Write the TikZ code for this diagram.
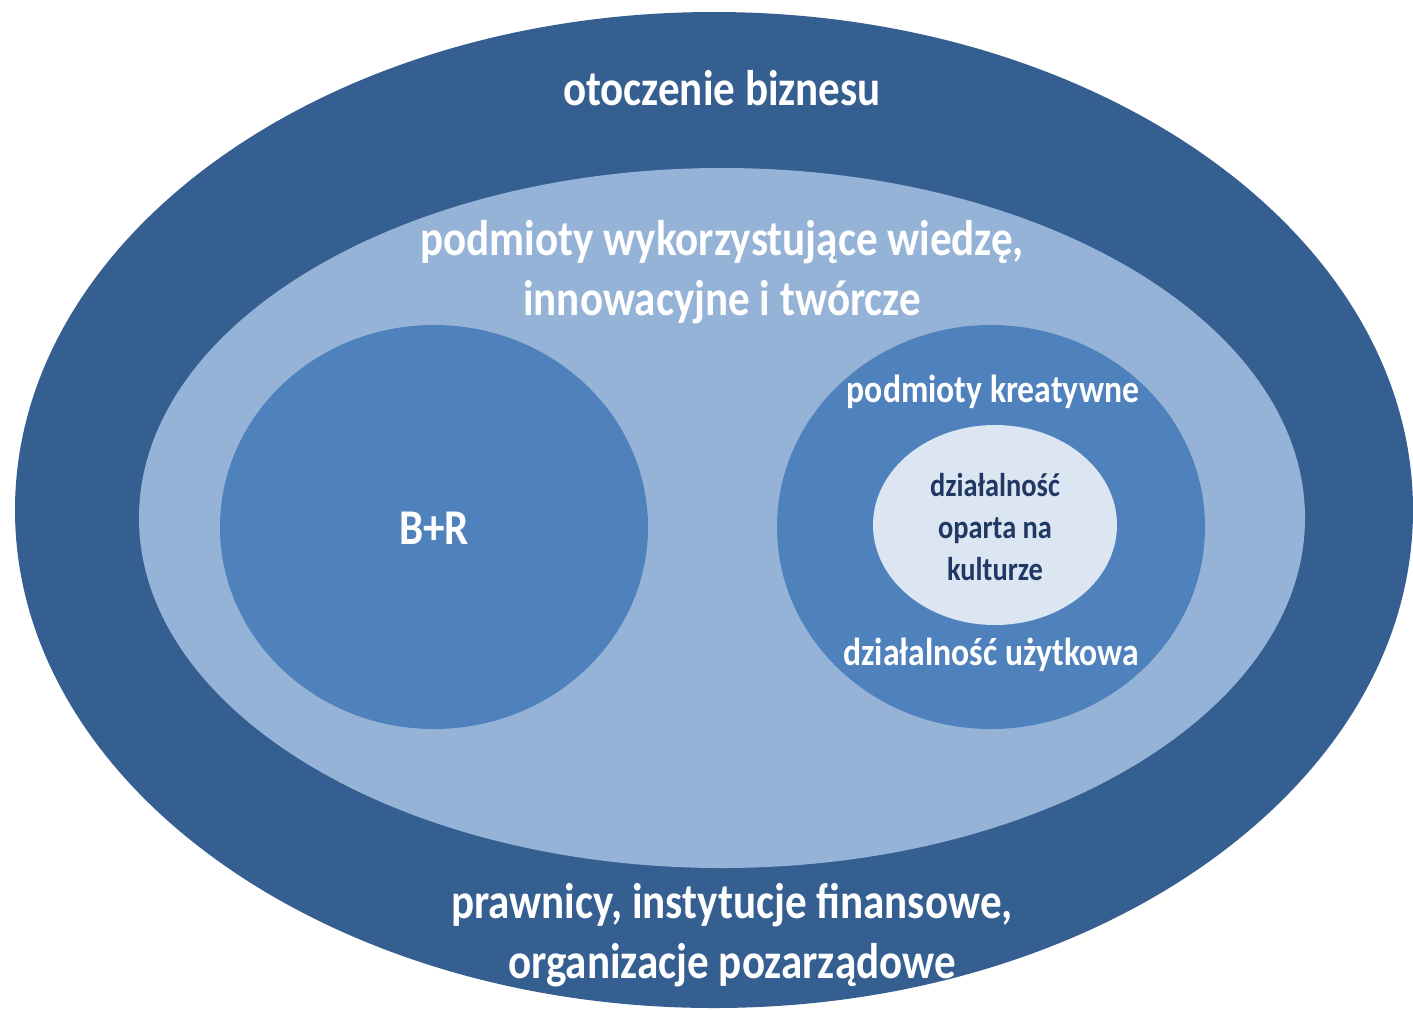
\documentclass[tikz,border=0pt]{standalone}
\usepackage{fontspec}
\setmainfont[FakeStretch=0.86]{Carlito}
\usetikzlibrary{positioning}

\definecolor{outerblue}{HTML}{365F91}
\definecolor{midblue}{HTML}{95B3D7}
\definecolor{circblue}{HTML}{4F81BD}
\definecolor{paleblue}{HTML}{DCE6F2}
\definecolor{navytext}{HTML}{1F3864}

\tikzset{
  bigtext/.style={text=white, font=\bfseries\fontsize{28.5}{34}\selectfont, align=center},
  midtext/.style={text=white, font=\bfseries\fontsize{22.3}{26}\selectfont, align=center},
  innertext/.style={text=navytext, font=\bfseries\fontsize{18.8}{24}\selectfont, align=center}
}

\begin{document}
\begin{tikzpicture}[x=0.02cm, y=-0.02cm]
  \useasboundingbox (0,0) rectangle (1413,1009);

  % draw the sets
  \fill[outerblue] (714,510) ellipse (699 and 498);
  \fill[midblue] (722,518) ellipse (583 and 350);
  \fill[circblue] (434,527) ellipse (214 and 202);
  \fill[circblue] (991,527) ellipse (214 and 202);
  \fill[paleblue] (995,525) ellipse (122 and 100);

  % the texts
  \node[bigtext] (env) at (722,88) {otoczenie biznesu};
  \node[bigtext] (knowledge) at (722,272) {podmioty wykorzystujące wiedzę,\\innowacyjne i twórcze};
  \node[bigtext] (rd) at (434,528) {B+R};
  \node[midtext] (creative) at (993,392) {podmioty kreatywne};
  \node[innertext] (culture) at (995,527) {działalność\\oparta na\\kulturze};
  \node[midtext] (applied) at (991,655) {działalność użytkowa};
  \node[bigtext] (others) at (732,935) {prawnicy, instytucje finansowe,\\organizacje pozarządowe};
\end{tikzpicture}
\end{document}
